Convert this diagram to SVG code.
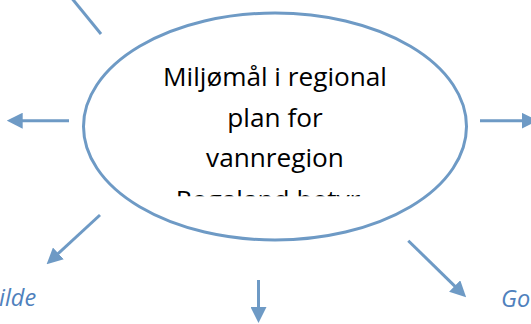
<svg xmlns="http://www.w3.org/2000/svg" width="531" height="324" viewBox="0 0 531 324">
  <style>
    .conn { stroke: #6e9ac5; stroke-width: 3; fill: none; }
    .main { font-family: "Open Sans", "Liberation Sans", sans-serif; font-size: 26.2px; fill: #000000; text-anchor: middle; }
    .lbl { font-family: "Open Sans", "Liberation Sans", sans-serif; font-size: 23.5px; font-style: italic; fill: #4f81bd; }
  </style>
  <defs>
    <marker id="ah" markerUnits="userSpaceOnUse" viewBox="0 0 16 16" refX="8" refY="8" markerWidth="16" markerHeight="16" orient="auto">
      <path d="M0,0 L16,8 L0,16 z" fill="#6e9ac5"/>
    </marker>
    <clipPath id="clipLine4">
      <rect x="0" y="0" width="531" height="196.3"/>
    </clipPath>
  </defs>
  <rect width="531" height="324" fill="#ffffff"/>

  <g id="connectors">
    <line class="conn" x1="101" y1="34" x2="70" y2="-4"/>
    <line class="conn" x1="69" y1="120.7" x2="14.7" y2="120.7" marker-end="url(#ah)"/>
    <line class="conn" x1="480" y1="120.7" x2="529.7" y2="120.7" marker-end="url(#ah)"/>
    <line class="conn" x1="100" y1="215" x2="52.5" y2="258.8" marker-end="url(#ah)"/>
    <line class="conn" x1="258.5" y1="280" x2="258.5" y2="315" marker-end="url(#ah)"/>
    <line class="conn" x1="408.3" y1="240.7" x2="460.4" y2="291.6" marker-end="url(#ah)"/>
  </g>

  <g id="node-center">
    <ellipse cx="275" cy="126.5" rx="191.5" ry="113.5" fill="#ffffff" stroke="#6e9ac5" stroke-width="3"/>
    <text class="main" x="275" y="86">Miljømål i regional</text>
    <text class="main" x="275" y="126.7">plan for</text>
    <text class="main" x="275" y="167.4">vannregion</text>
    <text class="main" x="268" y="209" clip-path="url(#clipLine4)">Rogaland betyr</text>
  </g>

  <g id="label-left">
    <text class="lbl" x="-1" y="306">ilde</text>
  </g>
  <g id="label-right">
    <text class="lbl" x="501" y="307">Go</text>
  </g>
</svg>
